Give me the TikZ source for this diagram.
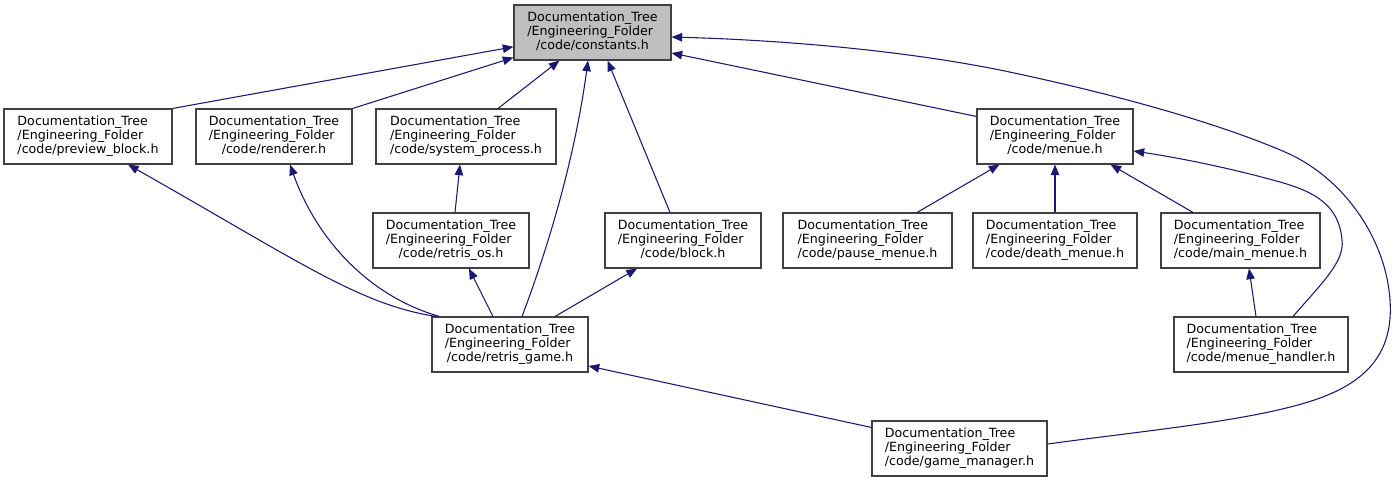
\documentclass[tikz,border=0pt]{standalone}
\usepackage{fontspec}
\setmainfont{DejaVu Sans}
\usetikzlibrary{arrows.meta, calc}
\definecolor{edgecolor}  {RGB}{25, 25, 112}
\definecolor{rootcolor}  {RGB}{191, 191, 191}
\definecolor{framecolor} {RGB}{64, 64, 64}
\newcommand{\incfile}[1]{%
	\begin{tabular}{@{}l@{}}Documentation\_Tree\\/Engineering\_Folder\\
		\multicolumn{1}{@{}c@{}}{/code/#1}\end{tabular}}
\tikzset{
	filebox/.style={
		rectangle, draw=framecolor, line width=0.8pt, fill=white,
		minimum height=41.25pt, inner sep=0pt,
		font=\fontsize{9.5}{10.3}\selectfont
	},
	rootbox/.style={filebox, fill=rootcolor},
	boxw/.style={minimum width=#1*0.75pt},
	incarrow/.style={
		-{Triangle[length=8pt, width=6.4pt]}, line width=0.8pt, color=edgecolor
	}
}
\begin{document}
\begin{tikzpicture}[x=0.75pt, y=-0.75pt]
		\useasboundingbox (0,0) rectangle (1396,483);
		
		%% ═══════════════════════════════
		%%  ROW 0 — root header
		%% ═══════════════════════════════
		\node[rootbox, boxw=157] (consts) at (592.5,32.5) {\incfile{constants.h}};
		
		%% ═══════════════════════════════
		%%  ROW 1
		%% ═══════════════════════════════
		\node[filebox, boxw=168] (prevblk)  at (88,136.5)   {\incfile{preview\_block.h}};
		\node[filebox, boxw=156] (renderer) at (274,136.5)  {\incfile{renderer.h}};
		\node[filebox, boxw=180] (sysproc)  at (466,136.5)  {\incfile{system\_process.h}};
		\node[filebox, boxw=156] (menue)    at (1055,136.5) {\incfile{menue.h}};
		
		%% ═══════════════════════════════
		%%  ROW 2
		%% ═══════════════════════════════
		\node[filebox, boxw=156] (retrisos)   at (451,240.5)    {\incfile{retris\_os.h}};
		\node[filebox, boxw=156] (block)      at (683,240.5)    {\incfile{block.h}};
		\node[filebox, boxw=169] (pausemenue) at (867.5,240.5)  {\incfile{pause\_menue.h}};
		\node[filebox, boxw=164] (deathmenue) at (1055,240.5)   {\incfile{death\_menue.h}};
		\node[filebox, boxw=159] (mainmenue)  at (1240.5,240.5) {\incfile{main\_menue.h}};
		
		%% ═══════════════════════════════
		%%  ROW 3 + ROW 4
		%% ═══════════════════════════════
		\node[filebox, boxw=156] (retrisgame)   at (510,344.5)   {\incfile{retris\_game.h}};
		\node[filebox, boxw=174] (menuehandler) at (1261,344.5)  {\incfile{menue\_handler.h}};
		\node[filebox, boxw=175] (gamemgr)      at (959.5,448.5) {\incfile{game\_manager.h}};
		
		%% ═══════════════════════════════
		%%  ARROWS
		%% ═══════════════════════════════
		
		% Row 1 → constants
		\draw[incarrow] (prevblk.north east) -- (consts);
		\draw[incarrow] (renderer.north east) -- (consts);
		\draw[incarrow] ($(sysproc.north)+(32,0)$) -- ($(consts.south west)+(46,0)$);
		\draw[incarrow] ($(menue.north west)+(0,8)$) -- ($(consts.east)+(0,20.5)$);
		
		% long ones → constants
		\draw[incarrow] ($(retrisgame.north)+(12,0)$) .. controls (552,237) and (576,150) .. ($(consts.south)+(-4.5,0)$);
		\draw[incarrow] ($(block.north)+(-13,0)$) -- ($(consts.south east)+(-64,0)$);
		\draw[incarrow] ($(gamemgr.east)+(0,-4.5)$) .. controls (1150,430) and (1260,420) .. (1320,398)
			.. controls (1375,378) and (1393,345) .. (1390,300)
			.. controls (1386,240) and (1345,178) .. (1285,152)
			.. controls (1220,124) and (1120,95) .. (1000,70)
			.. controls (900,50) and (780,40) .. ($(consts.east)+(0,4.5)$);
		
		% menus → menue
		\draw[incarrow] ($(pausemenue.north)+(49.5,0)$) -- ($(menue.south west)+(23,0)$);
		\draw[incarrow] (deathmenue.north) -- (menue.south);
		\draw[incarrow] ($(mainmenue.north)+(-47.5,0)$) -- ($(menue.south east)+(-23,0)$);
		\draw[incarrow] ($(menuehandler.north)+(32,0)$) .. controls (1320,285) and (1345,262) .. (1342,240)
			.. controls (1339,205) and (1315,192) .. (1280,182)
			.. controls (1230,168) and (1180,158) .. ($(menue.east)+(0,14.5)$);
		\draw[incarrow] ($(menuehandler.north)+(-5,0)$) -- ($(mainmenue.south)+(8.5,0)$);
		
		% retris_game → upper headers
		\draw[incarrow] ($(retrisos.north)+(4,0)$) -- ($(sysproc.south)+(-6,0)$);
		\draw[incarrow] ($(retrisgame.north)+(-17,0)$) -- ($(retrisos.south)+(18,0)$);
		\draw[incarrow] ($(retrisgame.north west)+(5,0)$) .. controls (360,305) and (300,262) .. ($(prevblk.south)+(40,0)$);
		\draw[incarrow] ($(retrisgame.north west)+(8,0)$) .. controls (365,295) and (315,235) .. ($(renderer.south)+(16,0)$);
		\draw[incarrow] ($(retrisgame.north)+(45,0)$) -- ($(block.south)+(-46,0)$);
		
		% game_manager → retris_game
		\draw[incarrow] ($(gamemgr.north west)+(0,7)$) -- ($(retrisgame.east)+(0,21.5)$);
		
	\end{tikzpicture}
\end{document}
